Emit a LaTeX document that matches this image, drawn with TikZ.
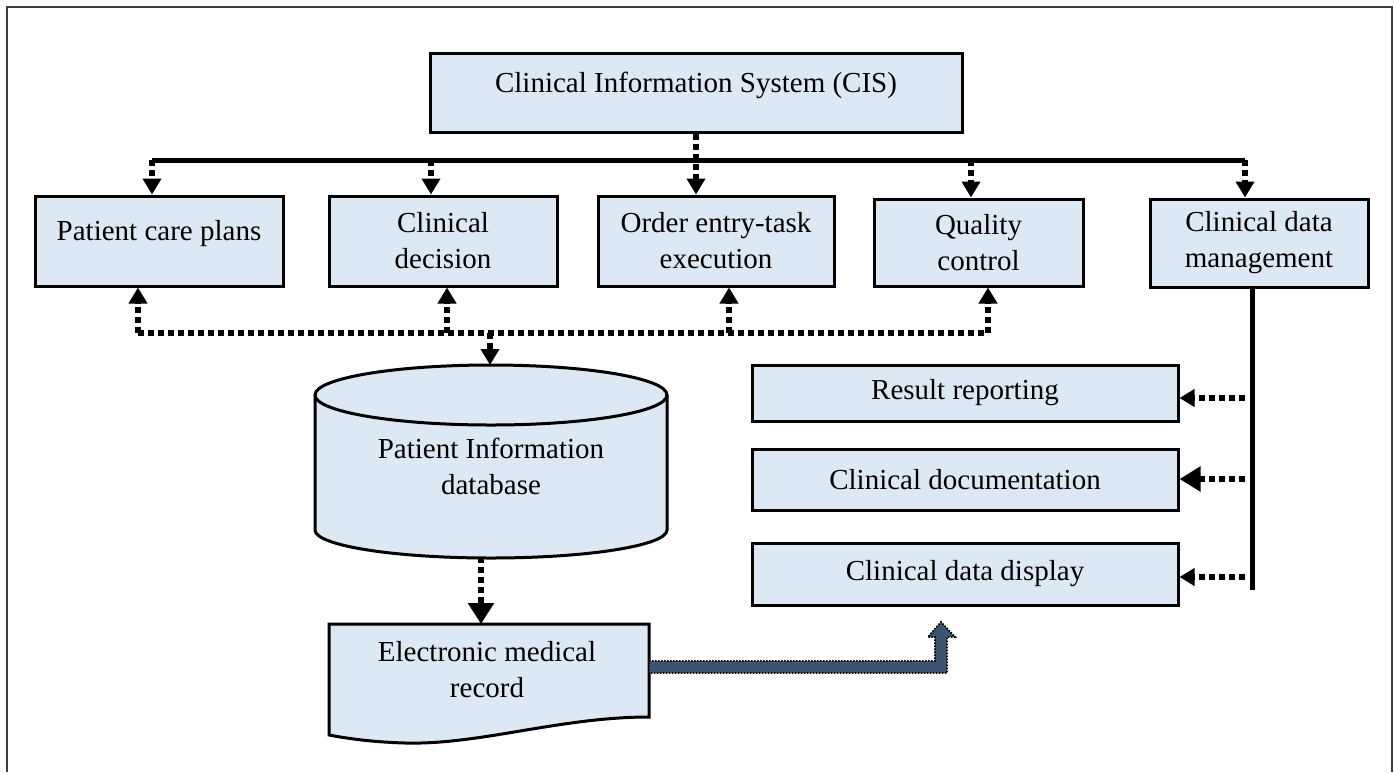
\documentclass[tikz,border=0pt]{standalone}
\usepackage{fontspec}
\setmainfont{Liberation Serif}
\usetikzlibrary{arrows.meta,calc}
\definecolor{boxfill}{RGB}{220,233,245}
\definecolor{emrblue}{RGB}{59,84,111}
\begin{document}
\begin{tikzpicture}[x=1pt,y=-1pt,
  txt/.style={align=center, inner sep=0pt, font=\fontsize{29}{36}\selectfont},
  box/.style={txt, draw, line width=3pt, fill=boxfill},
  shapestyle/.style={draw, line width=3pt, fill=boxfill},
  dashline/.style={line width=6pt, dash pattern=on 6pt off 4pt},
  dasharrow/.style={dashline, -{Triangle[width=18pt,length=16pt]}},
  dasharrowbig/.style={dashline, -{Triangle[width=25pt,length=21pt]}},
  sidearrow/.style={dashline, -{Triangle[width=17pt,length=15pt]}},
  sidearrowbig/.style={dashline, -{Triangle[width=24pt,length=21pt]}},
  bus/.style={line width=5pt},
  bluearrow/.style={fill=emrblue, draw=black, line width=1.8pt, dash pattern=on 1.6pt off 1.4pt}]
\useasboundingbox (0,0) rectangle (1394,772);
% frame
\draw[line width=2pt, black!75] (7,772) -- (7,7) -- (1392,7) -- (1392,772);

% boxes
\node[box, minimum width=532pt, minimum height=79pt, text height=20pt, text depth=20pt] (cis) at (696,92.5) {Clinical Information System (CIS)};
\node[box, minimum width=248pt, minimum height=90pt, text height=20pt, text depth=22pt] (pcp) at (159,241) {Patient care plans};
\node[box, minimum width=228pt, minimum height=90pt] (cd) at (443,241) {Clinical\\decision};
\node[box, minimum width=236pt, minimum height=90pt] (ord) at (716,241) {Order entry-task\\execution};
\node[box, minimum width=209pt, minimum height=87pt] (qc) at (978.5,242.5) {Quality\\control};
\node[box, minimum width=218pt, minimum height=88pt] (cdm) at (1259,243) {Clinical data\\management};

\node[box, minimum width=426pt, minimum height=56pt] (rr) at (965,393) {Result reporting};
\node[box, minimum width=426pt, minimum height=61pt] (cdoc) at (965,479.5) {Clinical documentation};
\node[box, minimum width=426pt, minimum height=62pt] (cdd) at (965,574) {Clinical data display};

% database cylinder
\path[shapestyle] (315,395) -- (315,530) arc[start angle=180, end angle=360, x radius=176pt, y radius=28pt] -- (667,395) arc[start angle=0, end angle=180, x radius=176pt, y radius=30pt] -- cycle;
\draw[line width=3pt] (315,395) arc[start angle=180, end angle=360, x radius=176pt, y radius=30pt];
\node[txt] (dbtext) at (491,466) {Patient Information\\database};
\coordinate (dbtop) at (491,365);
\coordinate (dbbot) at (481,557);

% electronic medical record (document shape)
\path[shapestyle] (329,624) -- (649,624) -- (649,717) .. controls (560,717) and (480,745) .. (405,743) .. controls (370,742) and (345,738) .. (329,735) -- cycle;
\node[txt] (emrtext) at (487,670) {Electronic medical\\record};
\coordinate (emrtop) at (481,624);

% bus from CIS
\coordinate (b1) at (152,160);
\coordinate (b2) at (431,160);
\coordinate (b4) at (971,160);
\coordinate (b5) at (1245,160);
\draw[bus] (b1) -- (b5);
\draw[dasharrow] (b1) -- (b1 |- pcp.north);
\draw[dasharrow] (b2) -- (b2 |- cd.north);
\draw[dasharrow] (cis.south) -- (cis.south |- ord.north);
\draw[dasharrow] (b4) -- (b4 |- qc.north);
\draw[dasharrow] (b5) -- (b5 |- cdm.north);

% feedback network to database
\coordinate (u1) at (138,333);
\coordinate (u2) at (447,333);
\coordinate (u3) at (729,333);
\coordinate (u4) at (988,333);
\coordinate (u0) at (490,333);
\draw[dashline] (u1) -- (u4);
\draw[dasharrow] (u1) -- (u1 |- pcp.south);
\draw[dasharrow] (u2) -- (u2 |- cd.south);
\draw[dasharrow] (u3) -- (u3 |- ord.south);
\draw[dasharrow] (u4) -- (u4 |- qc.south);
\draw[dasharrow] (u0) -- (u0 |- dbtop);

% database to EMR
\draw[dasharrowbig] (dbbot) -- (emrtop);

% clinical data management branch
\coordinate (v1) at (1252,590);
\draw[bus] (v1 |- cdm.south) -- (v1);
\coordinate (r1) at (1245,398);
\coordinate (r2) at (1245,479);
\coordinate (r3) at (1245,577);
\draw[sidearrow] (r1) -- (r1 -| rr.east);
\draw[sidearrowbig] (r2) -- (r2 -| cdoc.east);
\draw[sidearrow] (r3) -- (r3 -| cdd.east);

% EMR thick arrow
\path[bluearrow] (649,661) -- (935,661) -- (935,637) -- (928,637) -- (941,622) -- (955,637) -- (947,637) -- (947,673) -- (649,673) -- cycle;
\end{tikzpicture}
\end{document}
